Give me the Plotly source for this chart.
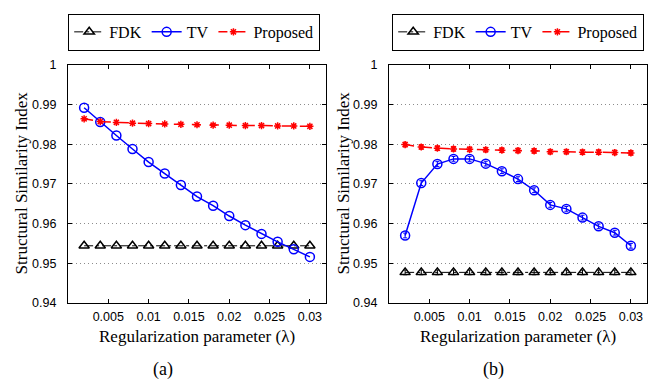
import plotly.graph_objects as go

lam = [0.002, 0.004, 0.006, 0.008, 0.010, 0.012, 0.014, 0.016, 0.018, 0.020, 0.022, 0.024, 0.026, 0.028, 0.030]

fdk_a = [0.9544] * 15
tv_a = [0.9892, 0.9856, 0.9822, 0.9788, 0.9755, 0.9726, 0.9697, 0.9668, 0.9645, 0.9619, 0.9596, 0.9574, 0.9554, 0.9535, 0.9516]
prop_a = [0.9864, 0.9857, 0.9855, 0.9853, 0.9852, 0.9851, 0.9850, 0.9849, 0.9848, 0.9848, 0.9847, 0.9847, 0.9846, 0.9846, 0.9845]

fdk_b = [0.9477] * 15
tv_b = [0.9570, 0.9702, 0.9750, 0.9763, 0.9763, 0.9751, 0.9732, 0.9712, 0.9684, 0.9647, 0.9637, 0.9615, 0.9593, 0.9577, 0.9544]
prop_b = [0.9799, 0.9793, 0.9790, 0.9788, 0.9787, 0.9786, 0.9785, 0.9784, 0.9783, 0.9781, 0.9781, 0.9780, 0.9780, 0.9779, 0.9778]
err_b = [0.0006] * 15

x_ticks = [0.005, 0.01, 0.015, 0.02, 0.025, 0.03]
x_ticklabels = ["0.005", "0.01", "0.015", "0.02", "0.025", "0.03"]
y_ticks = [0.94, 0.95, 0.96, 0.97, 0.98, 0.99, 1.0]
y_ticklabels = ["0.94", "0.95", "0.96", "0.97", "0.98", "0.99", "1"]

W, H = 660, 388
SERIF = "Liberation Serif"
SANS = "Liberation Sans"

fig = go.Figure()

def add_panel(xa, ya, leg, fdk, tv, prop, err=None):
    eb = None
    if err is not None:
        eb = dict(type="data", array=err, visible=True, thickness=1, width=2)
    fig.add_trace(go.Scatter(x=lam, y=fdk, name="FDK", mode="lines+markers",
                             line=dict(color="black", width=1, dash="dashdot"),
                             marker=dict(symbol="triangle-up-open", size=9, color="black", line=dict(width=1.5)),
                             error_y=(dict(eb, color="black") if eb else None),
                             xaxis=xa, yaxis=ya, legend=leg))
    fig.add_trace(go.Scatter(x=lam, y=tv, name="TV", mode="lines+markers",
                             line=dict(color="#0000ff", width=1.5),
                             marker=dict(symbol="circle-open", size=9, color="#0000ff", line=dict(width=1.5)),
                             error_y=(dict(eb, color="#0000ff") if eb else None),
                             xaxis=xa, yaxis=ya, legend=leg))
    fig.add_trace(go.Scatter(x=lam, y=prop, name="Proposed", mode="lines+markers",
                             line=dict(color="#ff0000", width=1.5, dash="dash"),
                             marker=dict(symbol="asterisk-open", size=6, color="#ff0000", line=dict(width=1.5, color="#ff0000")),
                             error_y=(dict(eb, color="#ff0000") if eb else None),
                             xaxis=xa, yaxis=ya, legend=leg))

add_panel("x", "y", "legend", fdk_a, tv_a, prop_a)
add_panel("x2", "y2", "legend2", fdk_b, tv_b, prop_b, err_b)

ytop = 1 - 60 / H
ybot = 1 - 307 / H

axis_common = dict(showline=True, linecolor="black", linewidth=1.2, mirror="allticks",
                   ticks="inside", ticklen=4, tickcolor="black", tickwidth=1,
                   tickfont=dict(family=SANS, size=12.5, color="black"), zeroline=False)
grid = dict(showgrid=True, gridcolor="#8c8c8c", griddash="1px,3px", gridwidth=1)

legend_common = dict(orientation="h", yanchor="top", y=1 - 7 / H, xanchor="left",
                     bordercolor="black", borderwidth=1.2, bgcolor="white",
                     font=dict(family=SERIF, size=16, color="black"), itemwidth=30,
                     tracegroupgap=0)

fig.update_layout(
    width=W, height=H, margin=dict(l=0, r=0, t=0, b=0),
    plot_bgcolor="white", paper_bgcolor="white",
    xaxis=dict(domain=[68 / W, 326 / W], range=[0, 0.032], tickvals=x_ticks, ticktext=x_ticklabels,
               showgrid=False, anchor="y", ticklabelstandoff=2, **axis_common),
    yaxis=dict(domain=[ybot, ytop], range=[0.94, 1.0], tickvals=y_ticks, ticktext=y_ticklabels,
               anchor="x", ticklabelstandoff=8, **grid, **axis_common),
    xaxis2=dict(domain=[389 / W, 647 / W], range=[0, 0.032], tickvals=x_ticks, ticktext=x_ticklabels,
                showgrid=False, anchor="y2", ticklabelstandoff=2, **axis_common),
    yaxis2=dict(domain=[ybot, ytop], range=[0.94, 1.0], tickvals=y_ticks, ticktext=y_ticklabels,
                anchor="x2", ticklabelstandoff=8, **grid, **axis_common),
    legend=dict(x=68 / W, **legend_common),
    legend2=dict(x=392 / W, **legend_common),
    showlegend=True,
)

def label(text, x, y, size=17, angle=0):
    return dict(text=text, x=x / W, y=1 - y / H, xref="paper", yref="paper",
                xanchor="center", yanchor="middle", textangle=angle, showarrow=False,
                font=dict(family=SERIF, size=size, color="black"))

fig.update_layout(annotations=[
    label("Structural Similarity Index", 21, 183, angle=-90),
    label("Structural Similarity Index", 343, 183, angle=-90),
    label("Regularization parameter (λ)", 197, 342),
    label("Regularization parameter (λ)", 518, 342),
    label("(a)", 163, 376, size=18),
    label("(b)", 493, 376, size=18),
])

fig.write_html("out.html")
